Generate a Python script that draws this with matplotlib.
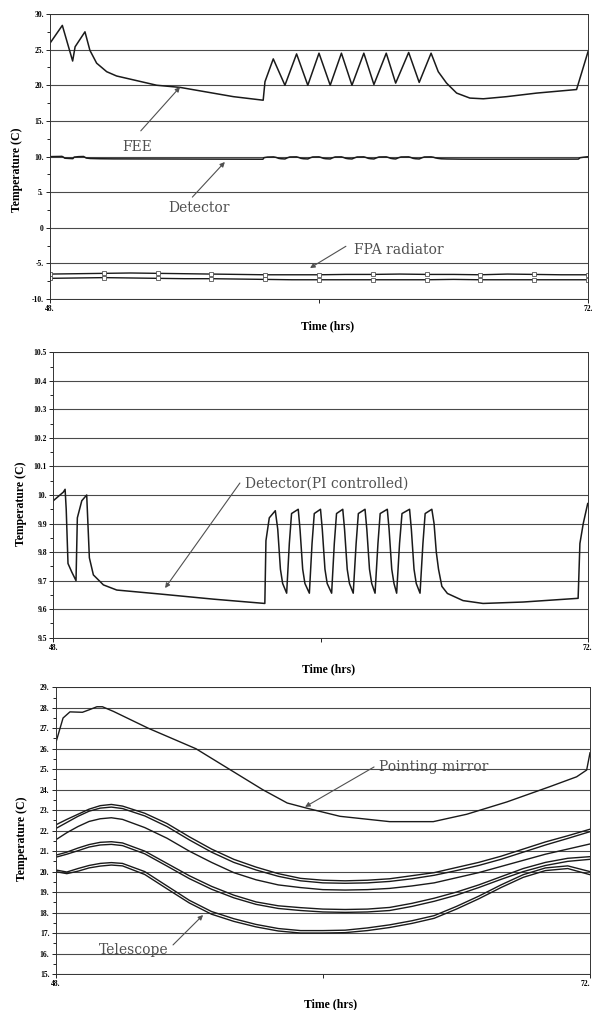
"""
Spacecraft thermal history, 48-72 h: FEE / detector / FPA radiator,
PI-controlled detector, pointing mirror and telescope.
"""
import matplotlib
matplotlib.use('Agg')
import matplotlib.pyplot as plt
import matplotlib.ticker as ticker

plt.rcParams.update({
    "font.family": "serif",
    "font.serif": ["Liberation Serif", "DejaVu Serif"],
    "axes.linewidth": 0.8,
    "axes.unicode_minus": False,
})

C_LINE = '#1a1a1a'
C_GRID = '#4a4a4a'
C_NOTE = '#505050'

# ===== Panel 1: FEE, detector, FPA radiator =====
fee_t = [48.0, 48.55, 49.01, 49.12, 49.56, 49.78, 50.08, 50.53, 50.97, 52.76,
         53.8, 56.18, 57.51, 57.59, 57.96, 58.48, 59.0, 59.5, 60.0, 60.5,
         61.0, 61.47, 62.0, 62.45, 63.0, 63.42, 64.0, 64.47, 65.0, 65.32,
         65.69, 66.14, 66.73, 67.33, 68.37, 69.71, 71.49, 72.0]
fee_v = [25.9, 28.4, 23.4, 25.4, 27.5, 24.9, 23.1, 21.9, 21.3, 20.0,
         19.7, 18.4, 17.9, 20.5, 23.7, 20.0, 24.4, 20.0, 24.5, 20.0,
         24.5, 20.0, 24.5, 20.1, 24.5, 20.3, 24.6, 20.4, 24.5, 21.9,
         20.3, 18.9, 18.2, 18.1, 18.4, 18.9, 19.4, 24.7]

fpa_t = [48.0, 49.2, 50.4, 51.6, 52.8, 54.0, 55.2, 56.4, 57.6, 58.8, 60.0,
         61.2, 62.4, 63.6, 64.8, 66.0, 67.2, 68.4, 69.6, 70.8, 72.0]
fpa_upper = [-6.5, -6.45, -6.4, -6.35, -6.4, -6.45, -6.5, -6.55, -6.6, -6.6, -6.6,
             -6.55, -6.55, -6.5, -6.55, -6.55, -6.6, -6.5, -6.55, -6.6, -6.6]
fpa_lower = [-7.1, -7.05, -7.0, -7.05, -7.1, -7.15, -7.15, -7.2, -7.25, -7.3, -7.3,
             -7.3, -7.3, -7.3, -7.3, -7.25, -7.3, -7.3, -7.3, -7.3, -7.3]

# ===== Panel 2: detector (PI controlled) =====
det_t = [48.0, 48.45, 48.53, 48.58, 48.66, 48.83, 49.02, 49.08, 49.28, 49.5,
         49.62, 49.8, 50.25, 50.85, 52.8, 55.2, 57.5, 57.55, 57.7, 57.97,
         58.08, 58.2, 58.3, 58.48, 58.6, 58.7,
         59.0, 59.08, 59.2, 59.3, 59.5, 59.62, 59.72,
         60.0, 60.08, 60.2, 60.3, 60.5, 60.62, 60.72,
         61.0, 61.08, 61.2, 61.3, 61.47, 61.6, 61.7,
         62.0, 62.08, 62.2, 62.3, 62.45, 62.58, 62.68,
         63.0, 63.08, 63.2, 63.3, 63.42, 63.55, 63.66,
         64.0, 64.08, 64.2, 64.3, 64.47, 64.6, 64.7,
         65.0, 65.1, 65.2, 65.3, 65.45, 65.7, 66.4, 67.3, 69.1, 71.57,
         71.65, 71.8, 72.0]
det_v = [9.98, 10.01, 10.02, 9.95, 9.76, 9.73, 9.70, 9.92, 9.98, 10.0,
         9.78, 9.72, 9.685, 9.667, 9.653, 9.635, 9.62, 9.84, 9.92, 9.945,
         9.88, 9.74, 9.69, 9.656, 9.83, 9.935,
         9.95, 9.88, 9.74, 9.69, 9.656, 9.83, 9.935,
         9.95, 9.88, 9.74, 9.69, 9.656, 9.83, 9.935,
         9.95, 9.88, 9.74, 9.69, 9.656, 9.83, 9.935,
         9.95, 9.88, 9.74, 9.69, 9.656, 9.83, 9.935,
         9.95, 9.88, 9.74, 9.69, 9.656, 9.83, 9.935,
         9.95, 9.88, 9.74, 9.69, 9.656, 9.83, 9.935,
         9.95, 9.9, 9.8, 9.74, 9.68, 9.655, 9.63, 9.62, 9.625, 9.638,
         9.83, 9.9, 9.97]

# ===== Panel 3: pointing mirror and telescope =====
pm_t = [48.0, 48.33, 48.64, 49.2, 49.5, 49.85, 50.1, 50.6, 52.16, 54.3,
        55.8, 57.3, 58.4, 59.27, 60.77, 63.0, 64.96, 66.46, 68.26, 70.2,
        71.4, 71.85, 72.0]
pm_v = [26.27, 27.5, 27.8, 27.78, 27.9, 28.05, 28.05, 27.82, 27.0, 26.0,
        25.0, 24.0, 23.35, 23.1, 22.7, 22.44, 22.44, 22.8, 23.4, 24.15,
        24.63, 24.96, 25.8]

tel_t = [48, 48.5, 49, 49.5, 50, 50.5, 51, 52, 53, 54, 55, 56, 57, 58,
         59, 60, 61, 62, 63, 64, 65, 66, 67, 68, 69, 70, 71, 72]
tel_a = [22.28, 22.55, 22.8, 23.05, 23.22, 23.28, 23.2, 22.85, 22.35, 21.7, 21.1, 20.6,
         20.22, 19.9, 19.67, 19.58, 19.55, 19.58, 19.65, 19.8, 19.95, 20.2, 20.45, 20.75,
         21.1, 21.45, 21.75, 22.07]
tel_b = [22.1, 22.4, 22.7, 22.95, 23.1, 23.15, 23.08, 22.72, 22.2, 21.55, 20.95, 20.45,
         20.08, 19.77, 19.55, 19.45, 19.43, 19.45, 19.52, 19.65, 19.82, 20.05, 20.3, 20.6,
         20.95, 21.3, 21.62, 21.95]
tel_c = [21.55, 21.9, 22.2, 22.45, 22.58, 22.63, 22.55, 22.15, 21.63, 21.0, 20.45, 19.95,
         19.6, 19.35, 19.22, 19.12, 19.1, 19.12, 19.18, 19.3, 19.45, 19.7, 19.95, 20.25,
         20.55, 20.85, 21.1, 21.35]
tel_d = [20.8, 20.95, 21.15, 21.32, 21.43, 21.46, 21.4, 21.0, 20.4, 19.8, 19.28, 18.85,
         18.52, 18.33, 18.24, 18.17, 18.15, 18.17, 18.25, 18.45, 18.7, 19.0, 19.35, 19.75,
         20.15, 20.45, 20.65, 20.73]
tel_e = [20.7, 20.85, 21.02, 21.2, 21.3, 21.33, 21.27, 20.87, 20.27, 19.66, 19.14, 18.72,
         18.4, 18.2, 18.1, 18.03, 18.01, 18.03, 18.1, 18.3, 18.55, 18.85, 19.22, 19.62,
         20.0, 20.3, 20.5, 20.6]
tel_f = [20.08, 19.98, 20.15, 20.3, 20.4, 20.44, 20.4, 20.0, 19.3, 18.6, 18.05, 17.7,
         17.42, 17.22, 17.12, 17.12, 17.14, 17.25, 17.4, 17.6, 17.85, 18.3, 18.8, 19.35,
         19.85, 20.18, 20.28, 20.0]
tel_g = [20.0, 19.9, 20.02, 20.18, 20.27, 20.32, 20.28, 19.86, 19.16, 18.47, 17.92, 17.57,
         17.3, 17.1, 17.0, 17.0, 17.02, 17.12, 17.27, 17.47, 17.72, 18.17, 18.67, 19.22,
         19.72, 20.05, 20.15, 19.85]

top_ticks = [-10, -5, 0, 5, 10, 15, 20, 25, 30]
top_labels = ['-10.', '-5.', '0', '5.', '10.', '15.', '20.', '25.', '30.']
mid_ticks = [9.5, 9.6, 9.7, 9.8, 9.9, 10.0, 10.1, 10.2, 10.3, 10.4, 10.5]
mid_labels = ['9.5', '9.6', '9.7', '9.8', '9.9', '10.', '10.1', '10.2', '10.3', '10.4', '10.5']
bot_ticks = list(range(15, 30))
bot_labels = [f'{v}.' for v in bot_ticks]
x_ticks = [48, 60, 72]
x_labels = ['48.', '', '72.']

ARROW = dict(arrowstyle='-|>', color=C_NOTE, lw=0.8, mutation_scale=7,
             shrinkA=0, shrinkB=0)


def style_axes(ax, yticks, ylabels, ylim, ylab_xy, xlab_xy):
    ax.set_xlim(48, 72)
    ax.set_ylim(*ylim)
    ax.set_yticks(yticks)
    ax.set_yticklabels(ylabels)
    ax.yaxis.set_minor_locator(ticker.AutoMinorLocator(2))
    ax.set_xticks(x_ticks)
    ax.set_xticklabels(x_labels)
    ax.tick_params(axis='both', which='major', labelsize=5.5, length=3,
                   width=0.6, pad=1.5)
    ax.tick_params(axis='y', which='minor', length=2, width=0.6)
    for lab in ax.get_xticklabels() + ax.get_yticklabels():
        lab.set_fontweight('bold')
    ax.grid(axis='y', which='major', color=C_GRID, linewidth=0.8)
    ax.set_axisbelow(True)
    for s in ax.spines.values():
        s.set_color('#333333')
        s.set_linewidth(0.7)
    ax.set_ylabel('Temperature (C)', fontsize=8.5, fontweight='bold')
    ax.set_xlabel('Time (hrs)', fontsize=8.5, fontweight='bold')
    ax.yaxis.set_label_coords(*ylab_xy)
    ax.xaxis.set_label_coords(*xlab_xy)


def note(ax, text, txy, tail, head, ha='center'):
    ax.text(txy[0], txy[1], text, fontsize=10, family='DejaVu Serif',
            color=C_NOTE, ha=ha, va='center')
    ax.annotate('', xy=head, xytext=tail, arrowprops=ARROW)


W, H = 592, 1010
fig = plt.figure(figsize=(W / 100, H / 100), dpi=100)

ax1 = fig.add_axes([50 / W, 1 - 299 / H, 538 / W, 285 / H])
ax2 = fig.add_axes([53.3 / W, 1 - 637.7 / H, 534.4 / W, 285.4 / H])
ax3 = fig.add_axes([55.7 / W, 1 - 974 / H, 534.3 / W, 286.7 / H])

# top panel
ax1.plot(fee_t, fee_v, color=C_LINE, lw=1.1)
ax1.plot(det_t, det_v, color=C_LINE, lw=1.1)
for series in [fpa_upper, fpa_lower]:
    ax1.plot(fpa_t, series, color=C_LINE, lw=1.0, marker='s', ms=2.5,
             mfc='white', mec='#555555', mew=0.6, markevery=2)
style_axes(ax1, top_ticks, top_labels, (-10, 30), (-0.05, 0.453), (0.515, -0.075))
note(ax1, 'FEE', (51.9, 11.4), (52.05, 13.6), (53.8, 19.75))
note(ax1, 'Detector', (54.65, 2.8), (54.35, 4.3), (55.8, 9.23))
note(ax1, 'FPA radiator', (63.55, -3.1), (61.2, -2.6), (59.6, -5.65))

# middle panel
ax2.plot(det_t, det_v, color=C_LINE, lw=1.1)
style_axes(ax2, mid_ticks, mid_labels, (9.5, 10.5), (-0.049, 0.468), (0.515, -0.088))
note(ax2, 'Detector(PI controlled)', (56.6, 10.04), (56.38, 10.042),
     (53.02, 9.674), ha='left')

# bottom panel
ax3.plot(pm_t, pm_v, color=C_LINE, lw=1.0)
for series in [tel_a, tel_b, tel_c, tel_d, tel_e, tel_f, tel_g]:
    ax3.plot(tel_t, series, color=C_LINE, lw=1.0)
style_axes(ax3, bot_ticks, bot_labels, (15, 29), (-0.052, 0.471), (0.515, -0.084))
ax3.get_xticklabels()[-1].set_horizontalalignment('right')
note(ax3, 'Pointing mirror', (62.5, 25.11), (62.3, 25.11), (59.2, 23.16),
     ha='left')
note(ax3, 'Telescope', (51.5, 16.17), (53.27, 16.42), (54.62, 17.88))

fig.savefig('out.png', dpi=100)
plt.close(fig)
